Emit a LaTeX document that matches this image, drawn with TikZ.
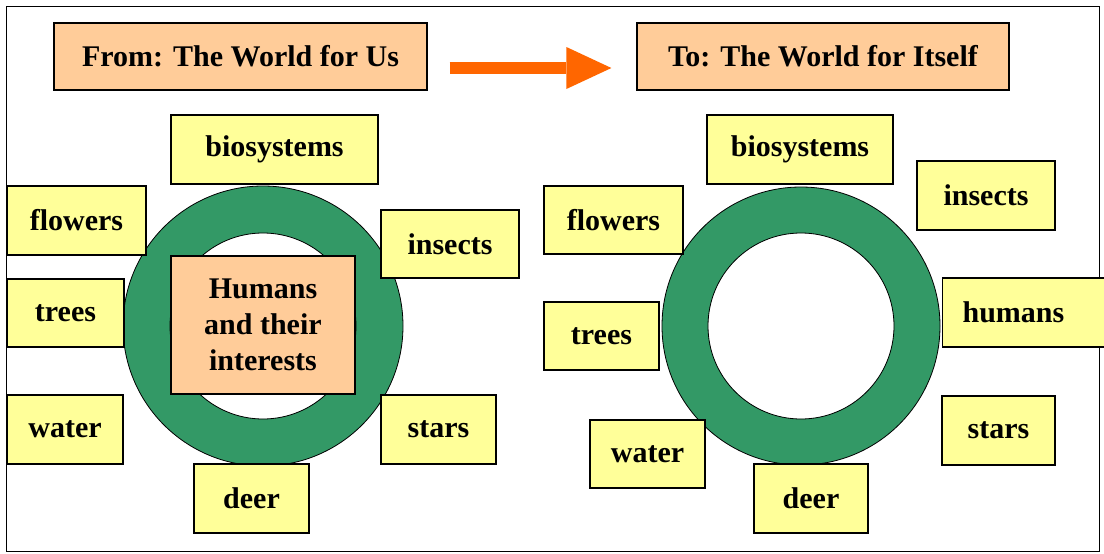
\documentclass[tikz,border=0pt]{standalone}
\usepackage{fontspec}
\setmainfont{Liberation Serif}
\usetikzlibrary{arrows.meta}

\definecolor{peach}{HTML}{FFCC99}
\definecolor{paleyellow}{HTML}{FFFF99}
\definecolor{ringgreen}{HTML}{339966}
\definecolor{arroworange}{HTML}{FF6600}

\begin{document}
\begin{tikzpicture}[x=1pt,y=-1pt,
    boxtext/.style={draw=black, line width=1.2pt, inner sep=0pt,
        font=\bfseries\fontsize{30}{36}\selectfont, align=center},
    title/.style={boxtext, fill=peach, minimum height=67pt},
    thing/.style={boxtext, fill=paleyellow},
    ring/.style={fill=ringgreen, draw=black, line width=0.8pt, even odd rule}]
\useasboundingbox (0,0) rectangle (1104,554);

% Frame
\draw[line width=1pt] (6,6) rectangle (1099,551);

% Rings
\draw[ring] (263,326) circle (140) (263,326) circle (93);
\draw[ring] (801,326) circle (139) (801,326) circle (93);

% Titles and arrow
\node[title, minimum width=373pt] (from) at (240.5,56.5) {From: The World for Us};
\node[title, minimum width=372pt] (to) at (823,56.5) {To: The World for Itself};
\draw[arroworange, line width=12pt,
    -{Triangle[length=45pt, width=42pt, line width=0pt]}]
    ([xshift=22pt, yshift=-11.5pt]from.east) -- ([xshift=-25pt, yshift=-11.5pt]to.west);

% Left: the world for us
\node[thing, minimum width=207pt, minimum height=69pt] (bioL) at (274.5,149.5) {biosystems};
\node[thing, minimum width=139pt, minimum height=69pt] (flowersL) at (76.5,220.5) {flowers};
\node[thing, minimum width=138pt, minimum height=68pt] (insectsL) at (450,244) {insects};
\node[thing, minimum width=117pt, minimum height=68pt] (treesL) at (65.5,313) {trees};
\node[boxtext, fill=peach, minimum width=184pt, minimum height=138pt] (humansL) at (263,325)
    {Humans\\and their\\interests};
\node[thing, minimum width=116pt, minimum height=69pt] (waterL) at (65,429.5) {water};
\node[thing, minimum width=115pt, minimum height=69pt] (starsL) at (438.5,429.5) {stars};
\node[thing, minimum width=115pt, minimum height=69pt] (deerL) at (251.5,498.5) {deer};

% Right: the world for itself
\node[thing, minimum width=186pt, minimum height=69pt] (bioR) at (800,149.5) {biosystems};
\node[thing, minimum width=138pt, minimum height=69pt] (insectsR) at (986,195.5) {insects};
\node[thing, minimum width=139pt, minimum height=68pt] (flowersR) at (613.5,220) {flowers};
\node[thing, anchor=west, text width=130pt, align=left, inner xsep=20pt,
    minimum height=69pt] (humansR) at (942,312.5) {humans};
\node[thing, minimum width=115pt, minimum height=68pt] (treesR) at (601.5,336) {trees};
\node[thing, minimum width=113pt, minimum height=69pt] (starsR) at (998.5,430.5) {stars};
\node[thing, minimum width=115pt, minimum height=68pt] (waterR) at (647.5,454) {water};
\node[thing, minimum width=114pt, minimum height=69pt] (deerR) at (811,498.5) {deer};

\end{tikzpicture}
\end{document}
